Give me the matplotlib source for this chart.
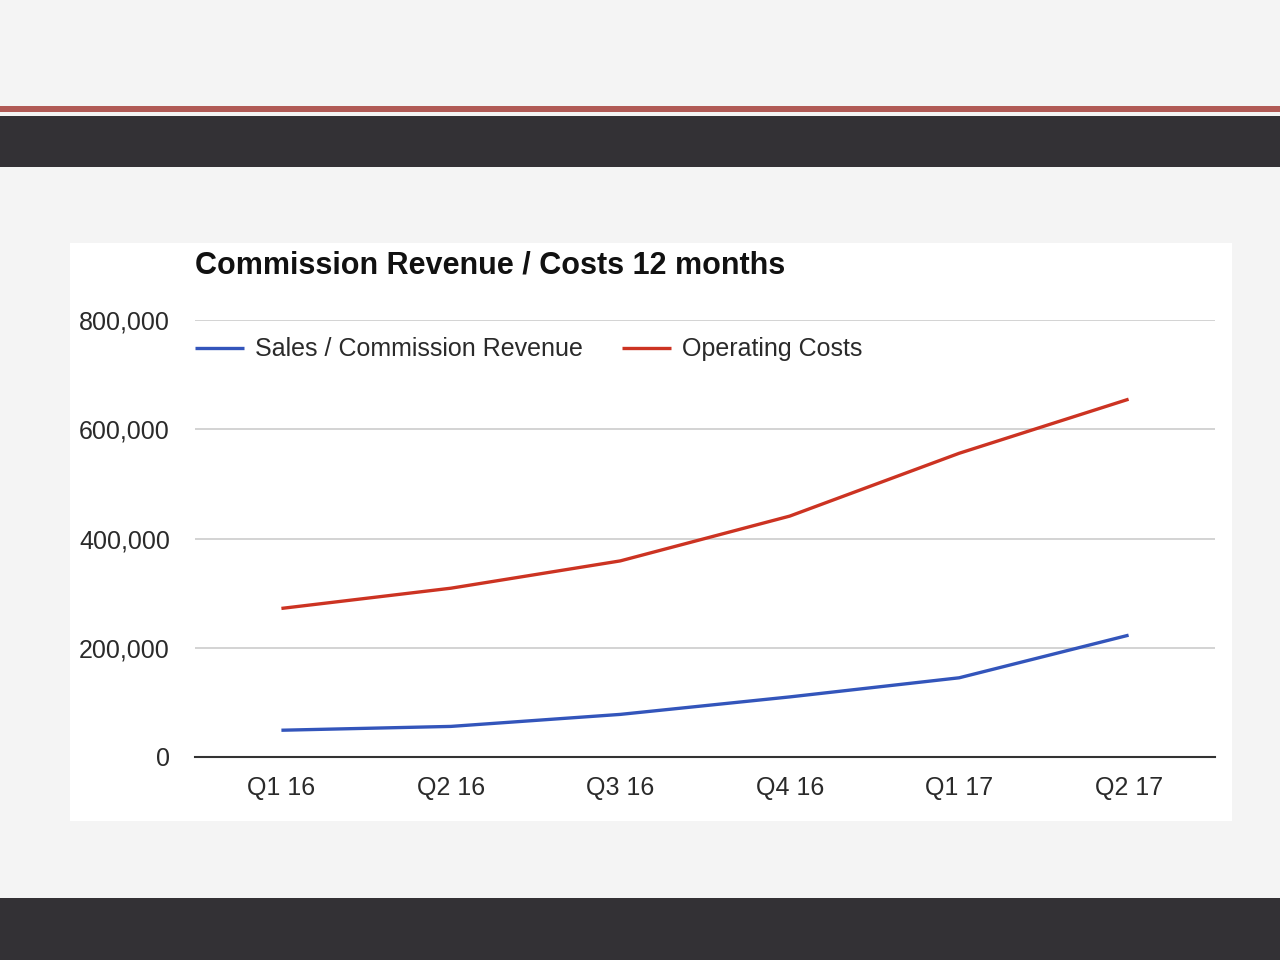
import matplotlib.pyplot as plt
from matplotlib.patches import Rectangle
from matplotlib.ticker import FuncFormatter

# data
quarters = ['Q1 16', 'Q2 16', 'Q3 16', 'Q4 16', 'Q1 17', 'Q2 17']
sales_revenue = [49000, 56000, 78000, 110000, 145000, 223000]
operating_costs = [272000, 309000, 359000, 441000, 556000, 655000]

plt.rcParams['font.family'] = ['Liberation Sans', 'DejaVu Sans']

W, H = 1280, 960
fig = plt.figure(figsize=(12.8, 9.6), dpi=100)
fig.patch.set_facecolor('#f4f4f4')


def px_rect(x0, y0, x1, y1, color, z=0):
    # rectangle given in pixel coords (top-left origin)
    r = Rectangle((x0 / W, 1 - y1 / H), (x1 - x0) / W, (y1 - y0) / H,
                  transform=fig.transFigure, facecolor=color,
                  edgecolor='none', zorder=z)
    fig.add_artist(r)


# slide decoration
px_rect(0, 106, W, 112, '#b05a55')
px_rect(0, 116, W, 167, '#333135')
px_rect(0, 898, W, H, '#333135')
px_rect(70, 243, 1232, 821, 'white')

ax = fig.add_axes([195 / W, 1 - 757 / H, (1215 - 195) / W, (757 - 320) / H])
ax.set_facecolor('none')
ax.set_zorder(2)

x = range(len(quarters))
ax.plot(x, sales_revenue, color='#3355bb', lw=2.4,
        label='Sales / Commission Revenue', solid_capstyle='butt')
ax.plot(x, operating_costs, color='#cc3322', lw=2.4,
        label='Operating Costs', solid_capstyle='butt')

ax.set_xlim(-0.51, 5.51)
ax.set_ylim(0, 800000)
ax.set_yticks([0, 200000, 400000, 600000, 800000])
ax.yaxis.set_major_formatter(FuncFormatter(lambda v, p: f'{int(v):,}'))
ax.set_xticks(list(x))
ax.set_xticklabels(quarters)
ax.tick_params(length=0, labelsize=18, colors='#2a2a2a')
ax.tick_params(axis='y', pad=18)
ax.tick_params(axis='x', pad=14)
ax.grid(axis='y', color='#cccccc', lw=1.2)
for s in ['top', 'right', 'left']:
    ax.spines[s].set_visible(False)
ax.spines['bottom'].set_color('#333333')
ax.spines['bottom'].set_linewidth(1.5)
ax.spines['bottom'].set_zorder(3)

leg = ax.legend(loc='center left', bbox_to_anchor=(0, 0.933), ncol=2,
                frameon=False, fontsize=18, handlelength=1.96,
                handletextpad=0.44, columnspacing=1.56, borderaxespad=0,
                borderpad=0)
for t in leg.get_texts():
    t.set_color('#2a2a2a')

fig.text(195 / W, 1 - 266 / H, 'Commission Revenue / Costs 12 months',
         fontsize=22, fontweight='bold', color='#111111', va='center', ha='left')

fig.savefig('out.png', dpi=100, facecolor=fig.get_facecolor())
